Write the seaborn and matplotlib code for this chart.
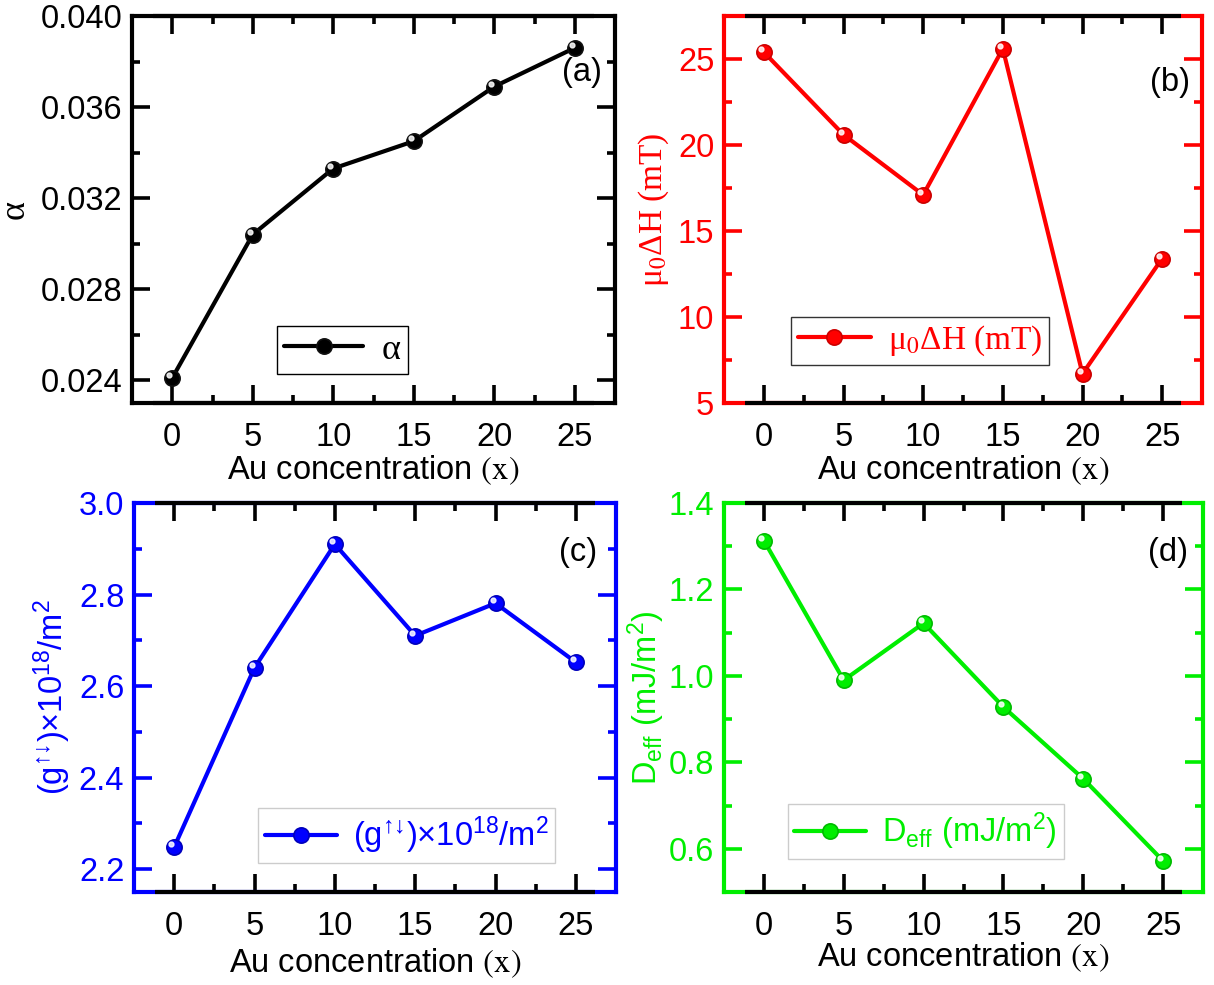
import matplotlib
matplotlib.use("Agg")
import matplotlib.pyplot as plt
import matplotlib.transforms as mtransforms
from matplotlib.font_manager import FontProperties
from matplotlib.ticker import MultipleLocator, FormatStrFormatter
import seaborn as sns
import pandas as pd

# ---------------- data ----------------
au_conc = [0, 5, 10, 15, 20, 25]
alpha_vals = [0.0241, 0.0304, 0.0333, 0.0345, 0.0369, 0.0386]
dH_vals = [25.4, 20.6, 17.1, 25.6, 6.7, 13.4]
g_vals = [2.248, 2.640, 2.910, 2.710, 2.781, 2.652]
deff_vals = [1.313, 0.990, 1.122, 0.928, 0.762, 0.572]

panel_tags = ["(a)", "(b)", "(c)", "(d)"]
ylabels = ["α", "μ$_0$ΔH (mT)",
           "(g$^{\\mathrm{↑↓}}$)×10$^{18}$/m$^2$",
           "D$_{\\rm eff}$ (mJ/m$^2$)"]
xlabel = "Au concentration $(\\mathrm{x})$"

sns.set_style("ticks")
plt.rcParams["font.family"] = ["Liberation Sans", "DejaVu Sans"]
plt.rcParams["mathtext.fontset"] = "custom"
plt.rcParams["mathtext.rm"] = "Liberation Sans"
plt.rcParams["mathtext.it"] = "Liberation Sans:italic"
plt.rcParams["mathtext.bf"] = "Liberation Sans:bold"

FS = 23.5
GREEN = "#00ee00"

panels = [
    dict(y=alpha_vals, color="black", edge="#111111", ylim=(0.023, 0.040), major=0.004, minor=0.002,
         fmt="%.3f", serif=True, pos=(132, 16, 615, 403), leg=(0.435, 0.137), legedge="black",
         tag=(0.932, 0.855), ylab_x=-0.242, xlab_y=-0.173, yfs=26),
    dict(y=dH_vals, color="#ff0000", edge="#cc0000", ylim=(5, 27.5), major=5, minor=2.5,
         fmt="%d", serif=True, pos=(724, 16, 1202, 403), leg=(0.41, 0.160), legedge="#333333",
         tag=(0.933, 0.829), ylab_x=-0.146, xlab_y=-0.173, yfs=24),
    dict(y=g_vals, color="#0000ff", edge="#0000bb", ylim=(2.15, 3.0), major=0.2, minor=0.1,
         fmt="%.1f", serif=False, pos=(134, 503, 616, 892), leg=(0.566, 0.145), legedge="#cccccc",
         tag=(0.921, 0.874), ylab_x=-0.17, xlab_y=-0.183, yfs=23.5),
    dict(y=deff_vals, color=GREEN, edge="#00bb00", ylim=(0.5, 1.4), major=0.2, minor=0.1,
         fmt="%.1f", serif=False, pos=(724, 503, 1203, 892), leg=(0.421, 0.156), legedge="#cccccc",
         tag=(0.927, 0.874), ylab_x=-0.163, xlab_y=-0.167, yfs=23.5),
]

W, H = 1214, 985
fig = plt.figure(figsize=(W / 100, H / 100), dpi=100)

for i, p in enumerate(panels):
    x0, y0, x1, y1 = p["pos"]
    ax = fig.add_axes([x0 / W, 1 - y1 / H, (x1 - x0) / W, (y1 - y0) / H])
    ax.set_facecolor("white")
    c = p["color"]
    df = pd.DataFrame({"x": au_conc, "y": p["y"]})
    sns.lineplot(data=df, x="x", y="y", ax=ax, color=c, lw=3, marker="o", markersize=11,
                 markeredgecolor=p["edge"], markerfacecolor=c, markeredgewidth=1.2,
                 label=ylabels[i], legend=False, zorder=3)
    # sphere highlight
    off = mtransforms.ScaledTranslation(-2 / 72, 2 / 72, fig.dpi_scale_trans)
    ax.plot(au_conc, p["y"], ls="none", marker="o", markersize=3.5, color="white", alpha=0.85,
            transform=ax.transData + off, zorder=4)

    ax.set_xlim(-2.5, 27.5)
    ax.set_ylim(*p["ylim"])
    ax.xaxis.set_major_locator(MultipleLocator(5))
    ax.xaxis.set_minor_locator(MultipleLocator(2.5))
    ax.yaxis.set_major_locator(MultipleLocator(p["major"]))
    ax.yaxis.set_minor_locator(MultipleLocator(p["minor"]))
    ax.yaxis.set_major_formatter(FormatStrFormatter(p["fmt"]))

    ax.tick_params(axis="both", which="both", direction="in", top=True, right=True)
    ax.tick_params(axis="x", which="major", length=13, width=2.6, pad=14, labelsize=FS,
                   colors="black")
    ax.tick_params(axis="x", which="minor", length=6, width=2.6, colors="black")
    ax.tick_params(axis="y", which="major", length=13, width=2.6, pad=7, labelsize=FS,
                   colors=c, labelcolor=c)
    ax.tick_params(axis="y", which="minor", length=6, width=2.6, colors=c)

    for s in ["left", "right", "top", "bottom"]:
        ax.spines[s].set_linewidth(3)
        ax.spines[s].set_color(c)
    for yy in (0, 1):
        ax.plot([0.044, 0.956], [yy, yy], transform=ax.transAxes, color="black", lw=3,
                solid_capstyle="butt", clip_on=False, zorder=6)

    ax.set_xlabel(xlabel, fontsize=FS, color="black", math_fontfamily="stix")
    ax.xaxis.set_label_coords(0.5, p["xlab_y"])
    ax.xaxis.label.set_verticalalignment("center")

    if p["serif"]:
        ax.set_ylabel(ylabels[i], fontsize=p["yfs"], color=c, family="Liberation Serif",
                      math_fontfamily="stix")
        legprop = FontProperties(family="Liberation Serif", size=p["yfs"], math_fontfamily="stix")
    else:
        ax.set_ylabel(ylabels[i], fontsize=p["yfs"], color=c)
        legprop = FontProperties(family="Liberation Sans", size=p["yfs"])
    ax.yaxis.set_label_coords(p["ylab_x"], 0.5)
    ax.yaxis.label.set_verticalalignment("center")
    ax.yaxis.label.set_rotation_mode("anchor")

    leg = ax.legend(loc="center", bbox_to_anchor=p["leg"], prop=legprop, frameon=True,
                    fancybox=False, framealpha=1, edgecolor=p["legedge"], borderpad=0.2,
                    handlelength=2.2, handletextpad=0.5, borderaxespad=0)
    leg.get_frame().set_linewidth(1)
    for t in leg.get_texts():
        t.set_color(c)

    ax.text(p["tag"][0], p["tag"][1], panel_tags[i], transform=ax.transAxes, fontsize=FS,
            ha="center", va="center", color="black")

fig.savefig("out.png", dpi=100)
